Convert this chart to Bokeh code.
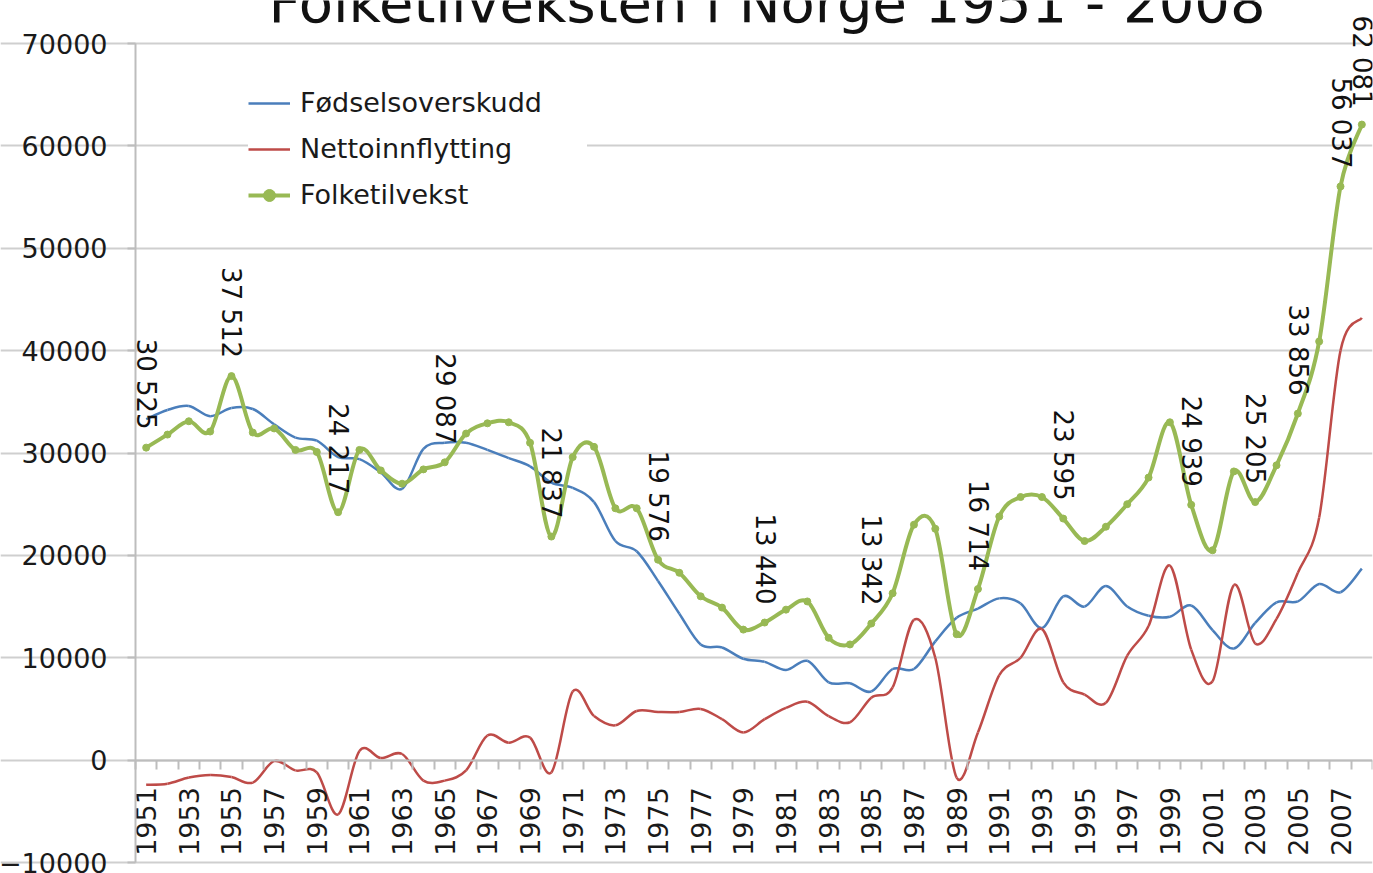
import math
from bokeh.plotting import figure
from bokeh.models import (ColumnDataSource, LabelSet, Legend, LegendItem,
                          FixedTicker, LinearAxis, Range1d)
from bokeh.core.properties import value
from bokeh.embed import file_html
from bokeh.resources import INLINE

# ---------------- data ----------------
years = list(range(1951, 2009))

fodselsoverskudd = [33300, 34200, 34600, 33600, 34400, 34300, 32800, 31500, 31200, 29600,
                    29400, 28100, 26500, 30400, 31000, 31000, 30300, 29500, 28700, 27100,
                    26600, 25200, 21400, 20400, 17500, 14300, 11300, 11000, 9900, 9600,
                    8800, 9700, 7600, 7500, 6700, 8900, 8900, 11600, 13900, 14800,
                    15800, 15300, 12900, 16000, 15000, 17000, 15000, 14100, 14000, 15100,
                    12700, 10900, 13400, 15400, 15500, 17200, 16400, 18700]

nettoinnflytting = [-2400, -2300, -1700, -1450, -1650, -2200, -100, -1000, -1200, -5300,
                    900, 200, 600, -2000, -2000, -1000, 2400, 1700, 2200, -1200,
                    6700, 4300, 3400, 4800, 4700, 4700, 5000, 4000, 2700, 4000,
                    5100, 5700, 4300, 3700, 6100, 7100, 13700, 10000, -1700, 2700,
                    8300, 10000, 12800, 7600, 6400, 5600, 10200, 13100, 19000, 10800,
                    7700, 17100, 11400, 13800, 18300, 23700, 40000, 43200]

folketilvekst = [30525, 31800, 33100, 32100, 37512, 32000, 32400, 30300, 30100, 24217,
                 30300, 28300, 27000, 28400, 29087, 31900, 32900, 33000, 31000, 21837,
                 29600, 30600, 24600, 24600, 19576, 18300, 16000, 14900, 12750, 13440,
                 14700, 15500, 11950, 11300, 13342, 16300, 23000, 22600, 12300, 16714,
                 23800, 25700, 25700, 23595, 21400, 22800, 25000, 27600, 33000, 24939,
                 20500, 28200, 25205, 28800, 33856, 40900, 56037, 62081]

label_years = [1951, 1955, 1960, 1965, 1970, 1975, 1980, 1985, 1990, 1994,
               2000, 2003, 2005, 2007, 2008]

series_names = ["Fødselsoverskudd", "Nettoinnflytting", "Folketilvekst"]
title_text = "Folketilveksten i Norge 1951 - 2008"
y_ticks = list(range(-10000, 70001, 10000))

BLUE = "#4A7EBB"
RED = "#BE4B48"
GREEN = "#98B954"
FONT = "DejaVu Sans"

# layout (pixels)
W, H = 1373, 873
LEFT_GAP = 135          # canvas left -> value axis
RIGHT_GAP = 1
TOP_GAP = 43            # canvas top -> 70000 line
BOTTOM_GAP = 11         # -10000 line -> canvas bottom
TITLE_SHIFT = 41        # title anchor above the 70000 line


def smooth_source(xs, ys):
    """Bezier segments (Excel-style smoothed line) through the data points."""
    n = len(xs)
    d = dict(x0=[], y0=[], x1=[], y1=[], cx0=[], cy0=[], cx1=[], cy1=[])
    for i in range(n - 1):
        a = max(i - 1, 0)
        b = min(i + 2, n - 1)
        d["x0"].append(xs[i]); d["y0"].append(ys[i])
        d["x1"].append(xs[i + 1]); d["y1"].append(ys[i + 1])
        d["cx0"].append(xs[i] + (xs[i + 1] - xs[a]) / 6.0)
        d["cy0"].append(ys[i] + (ys[i + 1] - ys[a]) / 6.0)
        d["cx1"].append(xs[i + 1] - (xs[b] - xs[i]) / 6.0)
        d["cy1"].append(ys[i + 1] - (ys[b] - ys[i]) / 6.0)
    return ColumnDataSource(d)


# The frame covers the whole canvas; the axes are placed at the data edges so
# that the texts outside the value area are not clipped.
x_lo, x_hi = years[0] - 0.5, years[-1] + 0.5
yrs_per_px = (x_hi - x_lo) / (W - RIGHT_GAP - LEFT_GAP)
x_start = x_lo - LEFT_GAP * yrs_per_px

units_per_px = (y_ticks[-1] - y_ticks[0]) / (H - TOP_GAP - BOTTOM_GAP)
y_top = y_ticks[-1] + TOP_GAP * units_per_px
y_bottom = y_ticks[0] - BOTTOM_GAP * units_per_px
y_title = y_ticks[-1] + TITLE_SHIFT * units_per_px

p = figure(width=W, height=H,
           x_range=Range1d(x_start, x_hi),
           y_range=Range1d(y_bottom, y_top),
           output_backend="svg", toolbar_location=None, title_location=None,
           x_axis_location=None, y_axis_location=None,
           min_border_left=0, min_border_right=RIGHT_GAP,
           min_border_top=0, min_border_bottom=0)
p.outline_line_color = None
p.background_fill_color = "white"
p.border_fill_color = "white"

# y axis / grid
yax = LinearAxis(fixed_location=x_lo, bounds=(y_ticks[0], y_ticks[-1]),
                 ticker=FixedTicker(ticks=y_ticks))
yax.axis_line_color = "#BDBDBD"
yax.axis_line_width = 2
yax.major_tick_line_color = "#BDBDBD"
yax.major_tick_line_width = 2
yax.major_tick_out = 8
yax.major_tick_in = 0
yax.minor_tick_line_color = None
yax.major_label_standoff = 20
yax.major_label_text_font = FONT
yax.major_label_text_font_size = "27px"
yax.major_label_text_color = "#1A1A1A"
p.add_layout(yax, "left")
p.ygrid.ticker = FixedTicker(ticks=y_ticks)
p.ygrid.bounds = (x_lo, x_hi)
p.ygrid.grid_line_color = "#CFCFCF"
p.ygrid.grid_line_width = 2
p.xgrid.visible = False

# x axis at y = 0
xa = LinearAxis(fixed_location=0, bounds=(x_lo, x_hi),
                ticker=FixedTicker(ticks=years[::2],
                                   minor_ticks=[y - 0.5 for y in years] + [x_hi]))
xa.axis_line_color = "#BDBDBD"
xa.axis_line_width = 2
xa.major_tick_line_color = None
xa.major_tick_out = 0
xa.major_tick_in = 0
xa.minor_tick_line_color = "#BDBDBD"
xa.minor_tick_line_width = 2
xa.minor_tick_out = 9
xa.minor_tick_in = 0
xa.major_label_orientation = math.pi / 2
xa.major_label_standoff = 18
xa.major_label_text_font = FONT
xa.major_label_text_font_size = "27px"
xa.major_label_text_color = "#1A1A1A"
p.add_layout(xa, "below")

# series
r_blue = p.bezier(x0="x0", y0="y0", x1="x1", y1="y1", cx0="cx0", cy0="cy0",
                  cx1="cx1", cy1="cy1", source=smooth_source(years, fodselsoverskudd),
                  line_color=BLUE, line_width=2.5)
r_red = p.bezier(x0="x0", y0="y0", x1="x1", y1="y1", cx0="cx0", cy0="cy0",
                 cx1="cx1", cy1="cy1", source=smooth_source(years, nettoinnflytting),
                 line_color=RED, line_width=2.5)
r_green = p.bezier(x0="x0", y0="y0", x1="x1", y1="y1", cx0="cx0", cy0="cy0",
                   cx1="cx1", cy1="cy1", source=smooth_source(years, folketilvekst),
                   line_color=GREEN, line_width=4)
r_green_pts = p.scatter(years, folketilvekst, marker="circle", size=7,
                        fill_color=GREEN, line_color=GREEN)

# data labels
lab_vals = [folketilvekst[years.index(y)] for y in label_years]
lab_src = ColumnDataSource(dict(x=label_years, y=lab_vals,
                                t=[f"{v:,}".replace(",", " ") for v in lab_vals]))
p.add_layout(LabelSet(x="x", y="y", text="t", source=lab_src, angle=-math.pi / 2,
                      text_align="right", text_baseline="middle", y_offset=18,
                      text_font=value(FONT), text_font_size=value("26px"),
                      text_color="#111111"))

# title (cut at the top of the canvas as in the reference)
p.text(x=[(years[0] + years[-1]) / 2], y=[y_title], text=[title_text],
       x_offset=13, text_align="center", text_baseline="alphabetic",
       text_font=value(FONT), text_font_size=value("56px"), text_color="#111111")

legend = Legend(items=[LegendItem(label=series_names[0], renderers=[r_blue]),
                       LegendItem(label=series_names[1], renderers=[r_red]),
                       LegendItem(label=series_names[2], renderers=[r_green, r_green_pts])],
                location=(LEFT_GAP + 113, 663), padding=35,
                spacing=15, margin=0,
                glyph_width=42, glyph_height=30, label_height=30, label_standoff=10,
                label_width=287,
                label_text_font=FONT, label_text_font_size="27px",
                label_text_color="#1A1A1A",
                border_line_color=None, background_fill_color="white",
                background_fill_alpha=1.0)
p.add_layout(legend, "center")

open("out.html", "w").write(file_html(p, INLINE))
